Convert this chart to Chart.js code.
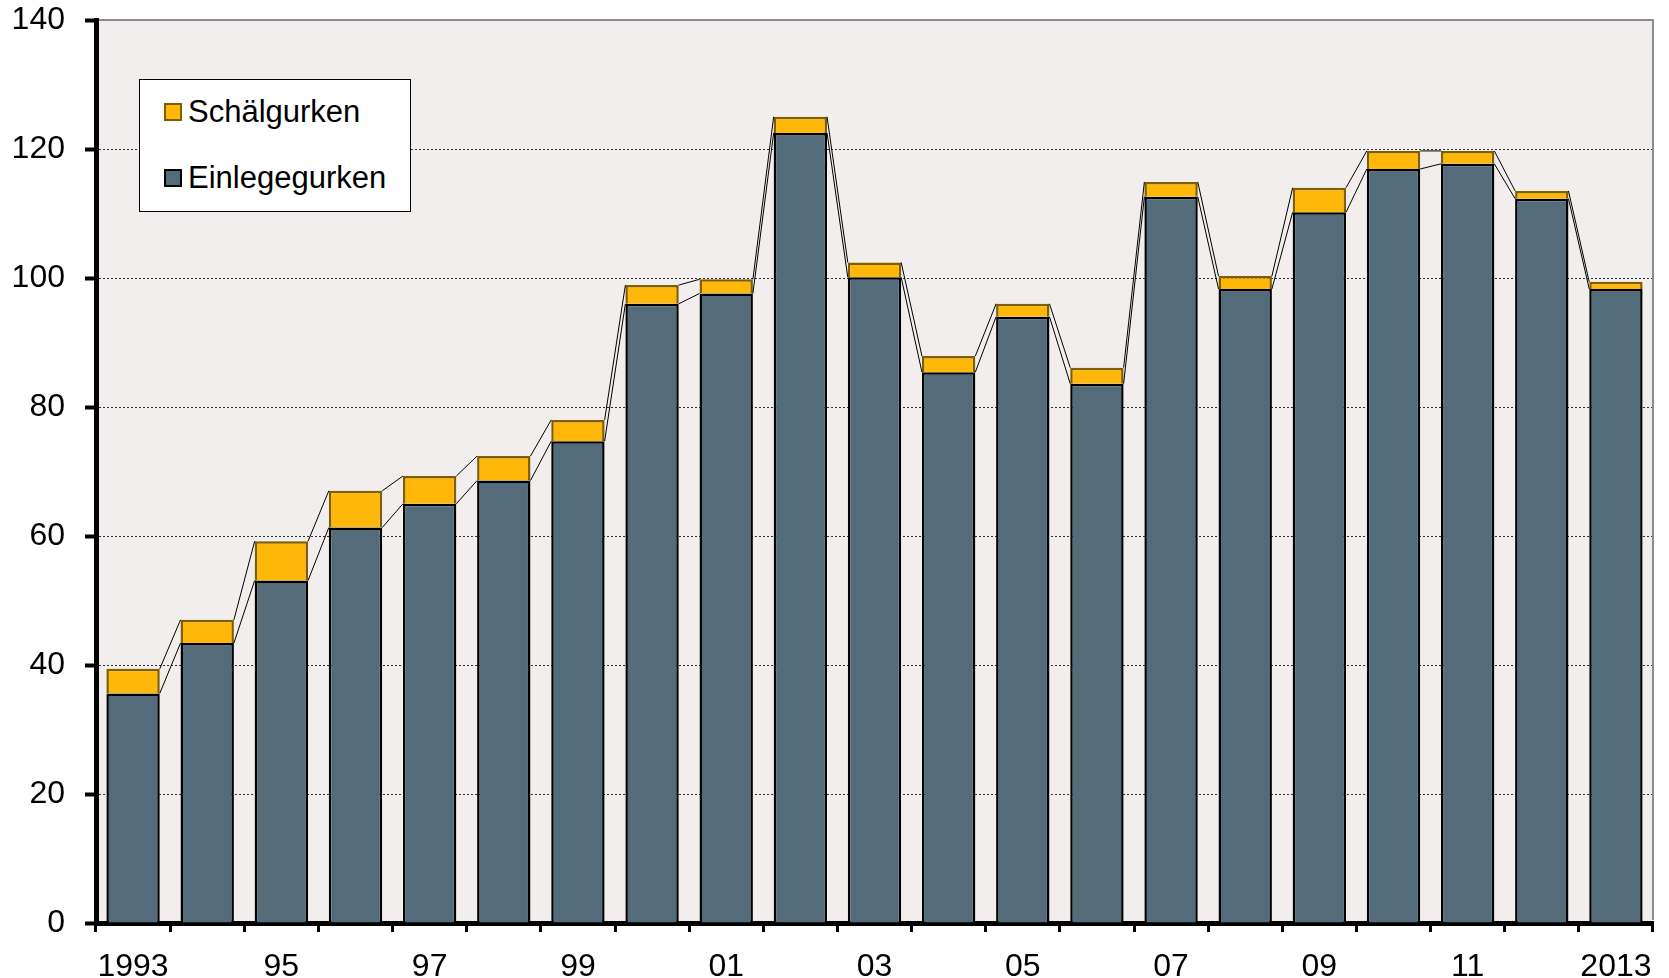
<!DOCTYPE html>
<html>
<head>
<meta charset="utf-8">
<script src="https://cdn.jsdelivr.net/npm/chart.js@4/dist/chart.umd.min.js"></script>
<style>
  html, body { margin: 0; padding: 0; background: #fff; }
  #wrap { position: relative; width: 1669px; height: 978px; }
  #legend {
    position: absolute; left: 139px; top: 79px; width: 270px; height: 131px;
    background: #fff; border: 1px solid #000;
    font-family: "Liberation Sans", Arial, sans-serif; font-size: 31px; color: #000;
  }
  .item { position: absolute; left: 24px; display: flex; align-items: center; white-space: nowrap; }
  .swatch { width: 14px; height: 14px; border: 2px solid; margin-right: 6px; }
</style>
</head>
<body>
<div id="wrap">
  <canvas id="chart"></canvas>
  <div id="legend"></div>
</div>
<script>
"use strict";

// Years on the category axis, and the labels printed under every other bar.
const YEARS = ["1993", "1994", "1995", "1996", "1997", "1998", "1999", "2000", "2001", "2002", "2003",
  "2004", "2005", "2006", "2007", "2008", "2009", "2010", "2011", "2012", "2013"];
const X_TICK_LABELS = ["1993", "", "95", "", "97", "", "99", "", "01", "", "03",
  "", "05", "", "07", "", "09", "", "11", "", "2013"];

// Stacked values (bottom: Einlegegurken, top: Schälgurken).
const EINLEGEGURKEN = [35.6, 43.4, 53.1, 61.3, 65.0, 68.6, 74.7, 96.0, 97.6, 122.5, 100.1,
  85.4, 94.0, 83.6, 112.6, 98.3, 110.2, 116.9, 117.7, 112.3, 98.3];
const SCHAELGURKEN = [3.8, 3.6, 6.1, 5.7, 4.3, 3.8, 3.3, 2.9, 2.2, 2.5, 2.3,
  2.5, 2.0, 2.5, 2.3, 2.0, 3.8, 2.8, 2.0, 1.2, 1.1];

const Y_MIN = 0, Y_MAX = 140, Y_STEP = 20;

const FONT = { family: '"Liberation Sans", Arial, sans-serif', size: 32 };
const COLORS = {
  einlege: "#546C7A", einlegeBorder: "#000000",
  schael: "#FFB70A", schaelBorder: "#7F5F00",
  plotBg: "#F1EEED",
};

// Plot-area background and grey frame on top/right.
const plotFrame = {
  id: "plotFrame",
  beforeDraw(chart) {
    const { ctx, chartArea: a } = chart;
    ctx.save();
    ctx.fillStyle = COLORS.plotBg;
    ctx.fillRect(a.left, a.top, a.right - a.left, a.bottom - a.top);
    ctx.restore();
  },
  afterDraw(chart) {
    const { ctx, chartArea: a } = chart;
    ctx.save();
    ctx.strokeStyle = "#8c8c8c";
    ctx.lineWidth = 2;
    ctx.beginPath();
    ctx.moveTo(a.left + 3, a.top);
    ctx.lineTo(a.right, a.top);
    ctx.lineTo(a.right, a.bottom - 3);
    ctx.stroke();
    ctx.restore();
  },
};

// Excel-style series lines joining the tops of neighbouring stacked bars.
const seriesLines = {
  id: "seriesLines",
  afterDatasetsDraw(chart) {
    const { ctx } = chart;
    ctx.save();
    ctx.strokeStyle = "#000";
    ctx.lineWidth = 1;
    chart.data.datasets.forEach((ds, di) => {
      const bars = chart.getDatasetMeta(di).data;
      ctx.beginPath();
      for (let i = 0; i < bars.length - 1; i++) {
        const a = bars[i], b = bars[i + 1];
        ctx.moveTo(a.x + a.width / 2, a.y);
        ctx.lineTo(b.x - b.width / 2, b.y);
      }
      ctx.stroke();
    });
    ctx.restore();
  },
};

new Chart(document.getElementById("chart"), {
  type: "bar",
  data: {
    labels: YEARS,
    datasets: [
      {
        label: "Einlegegurken",
        data: EINLEGEGURKEN,
        backgroundColor: COLORS.einlege,
        borderColor: COLORS.einlegeBorder,
        borderWidth: 2.5,
        barPercentage: 0.72,
        categoryPercentage: 1,
      },
      {
        label: "Schälgurken",
        data: SCHAELGURKEN,
        backgroundColor: COLORS.schael,
        borderColor: COLORS.schaelBorder,
        borderWidth: 2.5,
        barPercentage: 0.72,
        categoryPercentage: 1,
      },
    ],
  },
  options: {
    responsive: true,
    maintainAspectRatio: false,
    animation: false,
    layout: { padding: { top: 20, right: 16, left: 0, bottom: 0 } },
    plugins: { legend: { display: false }, tooltip: { enabled: false } },
    scales: {
      x: {
        stacked: true,
        afterFit: (s) => { s.height = 55; },
        grid: {
          display: true, drawOnChartArea: false, offset: true,
          tickLength: 9, tickWidth: 3, tickColor: "#000", color: "#000",
        },
        border: { display: true, color: "#000", width: 5 },
        ticks: {
          color: "#000", font: FONT, padding: 16, autoSkip: false, maxRotation: 0,
          callback: (v, i) => X_TICK_LABELS[i],
        },
      },
      y: {
        stacked: true,
        min: Y_MIN,
        max: Y_MAX,
        // fixed axis width; drop the label half-height padding so the plot starts at the top margin
        afterFit: (s) => { s.width = 96; s.paddingTop = 0; s.paddingBottom = 0; },
        grid: {
          color: (c) => (c.tick && (c.tick.value === Y_MIN || c.tick.value === Y_MAX)) ? "rgba(0,0,0,0)" : "#333",
          lineWidth: 1,
          tickLength: 11, tickWidth: 4, tickColor: "#000",
        },
        border: { display: true, color: "#000", width: 5, dash: [2, 2] },
        ticks: { color: "#000", font: FONT, padding: 20, stepSize: Y_STEP },
      },
    },
  },
  plugins: [plotFrame, seriesLines],
});

// Legend inside the plot area, Schälgurken listed first.
const LEGEND_ITEMS = [
  { label: "Schälgurken", fill: COLORS.schael, border: COLORS.schaelBorder, top: 14 },
  { label: "Einlegegurken", fill: COLORS.einlege, border: COLORS.einlegeBorder, top: 80 },
];
const legend = document.getElementById("legend");
for (const item of LEGEND_ITEMS) {
  const row = document.createElement("div");
  row.className = "item";
  row.style.top = item.top + "px";
  const sw = document.createElement("span");
  sw.className = "swatch";
  sw.style.background = item.fill;
  sw.style.borderColor = item.border;
  const txt = document.createElement("span");
  txt.textContent = item.label;
  row.appendChild(sw);
  row.appendChild(txt);
  legend.appendChild(row);
}
</script>
</body>
</html>
